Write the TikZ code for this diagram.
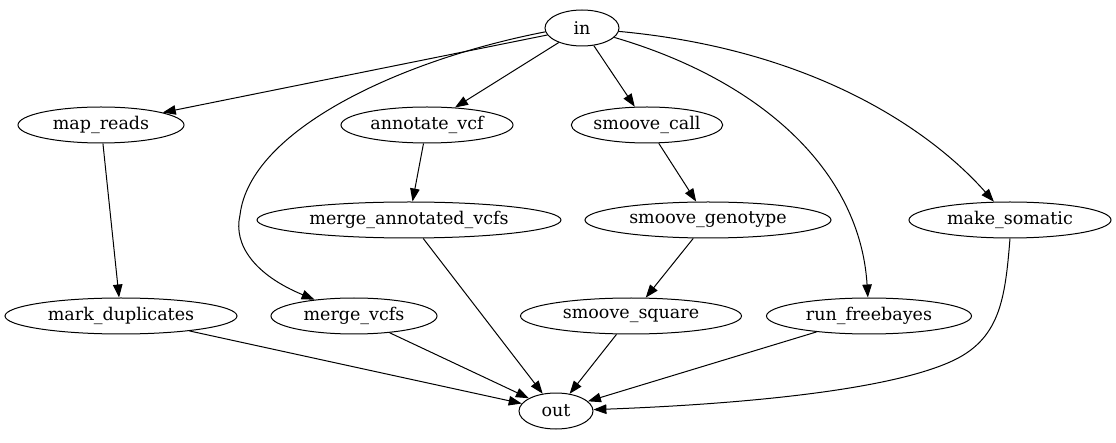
\documentclass[tikz,border=0pt]{standalone}
\usepackage{fontspec}
\setmainfont{DejaVu Serif}
\usetikzlibrary{shapes.geometric,arrows.meta}
\tikzset{
  nd/.style={ellipse,draw,line width=1pt,inner sep=0pt,minimum height=36pt,font=\fontsize{17.5}{20}\selectfont},
  ed/.style={line width=1pt,-{Triangle[length=13pt,width=9.5pt]}}
}
\begin{document}
\begin{tikzpicture}[x=1pt,y=-1pt]
\useasboundingbox (0,0) rectangle (1116,443);
\node[nd,minimum width=74pt] (in) at (582,28) {in};
\node[nd,minimum width=166pt] (map) at (101,125) {map\_reads};
\node[nd,minimum width=172pt] (ann) at (427,125) {annotate\_vcf};
\node[nd,minimum width=146pt] (call) at (647,125) {smoove\_call};
\node[nd,minimum width=304pt] (mav) at (409,220) {merge\_annotated\_vcfs};
\node[nd,minimum width=246pt] (geno) at (708,220) {smoove\_genotype};
\node[nd,minimum width=202pt] (som) at (1010,220) {make\_somatic};
\node[nd,minimum width=232pt] (dup) at (121,316) {mark\_duplicates};
\node[nd,minimum width=166pt] (mv) at (354,316) {merge\_vcfs};
\node[nd,minimum width=221pt] (sq) at (631,316) {smoove\_square};
\node[nd,minimum width=205pt] (fb) at (869,316) {run\_freebayes};
\node[nd,minimum width=74pt] (out) at (556,411) {out};
\coordinate (k1) at (240,215);
\coordinate (k2) at (950,362);
\draw[ed] (in) -- (map);
\draw[ed] (in.186) .. controls (400,60) and (250,130) .. (k1)
  .. controls (233,245) and (255,275) .. (mv);
\draw[ed] (in) -- (ann);
\draw[ed] (in) -- (call);
\draw[ed] (in) .. controls (760,80) and (860,170) .. (fb);
\draw[ed] (in) .. controls (820,50) and (935,135) .. (som);
\draw[ed] (map) -- (dup);
\draw[ed] (ann) -- (mav);
\draw[ed] (call) -- (geno);
\draw[ed] (geno) -- (sq);
\draw[ed] (mav) -- (out);
\draw[ed] (dup) -- (out);
\draw[ed] (mv) -- (out);
\draw[ed] (sq) -- (out);
\draw[ed] (fb) -- (out);
\draw[ed] (som.270) .. controls (1005,300) and (1000,340) .. (k2)
  .. controls (880,393) and (720,405) .. (out);
\end{tikzpicture}
\end{document}
